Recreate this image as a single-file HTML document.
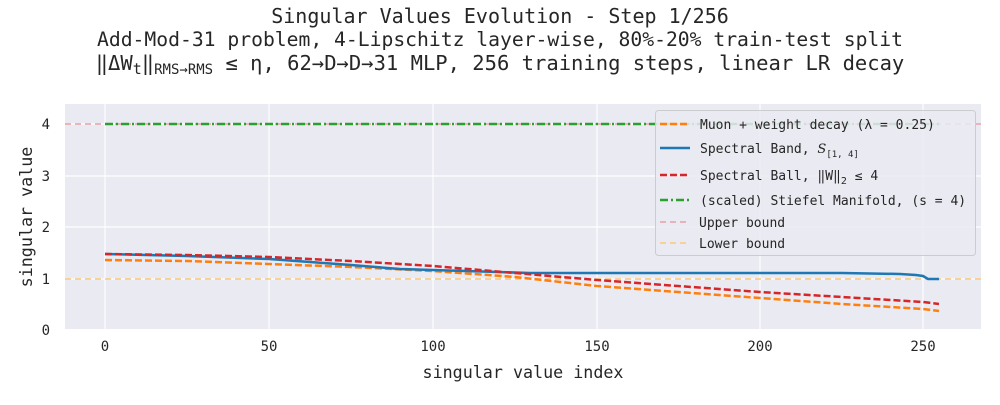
<!DOCTYPE html>
<html><head><meta charset="utf-8"><style>
body{margin:0;background:#fff;width:1000px;height:400px;overflow:hidden}
text{font-family:"DejaVu Sans Mono","Liberation Mono",monospace;fill:#262626}
</style></head><body>
<svg width="1000" height="400" xmlns="http://www.w3.org/2000/svg">
<text x="500" y="23" font-size="20" text-anchor="middle">Singular Values Evolution - Step 1/256</text>
<text x="500" y="46" font-size="19.7" text-anchor="middle">Add-Mod-31 problem, 4-Lipschitz layer-wise, 80%-20% train-test split</text>
<text x="500" y="70" font-size="20.5" text-anchor="middle">‖ΔW<tspan font-size="15" dy="4">t</tspan><tspan dy="-4">‖</tspan><tspan font-size="14" dy="4">RMS→RMS</tspan><tspan dy="-4"> ≤ η, 62→D→D→31 MLP, 256 training steps, linear LR decay</tspan></text>
<rect x="65" y="104" width="916" height="225" fill="#eaeaf2"/>
<g stroke="#fff" stroke-width="1.2">
<line x1="105" y1="104" x2="105" y2="329"/><line x1="269" y1="104" x2="269" y2="329"/><line x1="433" y1="104" x2="433" y2="329"/><line x1="597" y1="104" x2="597" y2="329"/><line x1="760" y1="104" x2="760" y2="329"/><line x1="923" y1="104" x2="923" y2="329"/>
<line x1="65" y1="279" x2="981" y2="279"/><line x1="65" y1="227" x2="981" y2="227"/><line x1="65" y1="176" x2="981" y2="176"/><line x1="65" y1="124" x2="981" y2="124"/>
</g>
<line x1="65" y1="124" x2="981" y2="124" stroke="#e8a0a6" stroke-width="1.5" stroke-dasharray="6,4"/>
<line x1="65" y1="279" x2="981" y2="279" stroke="#fcc974" stroke-width="1.5" stroke-dasharray="6,4"/>
<line x1="105" y1="124" x2="939" y2="124" stroke="#2ca02c" stroke-width="2.5" stroke-dasharray="8,3,2,3"/>
<polyline fill="none" stroke="#ff7f0e" stroke-width="2.5" stroke-dasharray="7,3" points="105,260 187,261 269,264 351,267 433,271 515,277 597,286 678,292 760,298 842,304 923,309 939,311"/>
<polyline fill="none" stroke="#1f77b4" stroke-width="2.5" points="105,254 187,256 269,259 351,265 400,269 433,270 498,272 530,273 760,273 842,273 900,274 916,275 923,276 928,279 939,279"/>
<polyline fill="none" stroke="#d62728" stroke-width="2.5" stroke-dasharray="7,3" points="105,254 187,255 269,257 351,261 433,266 515,273 597,280 678,286 760,292 842,297 923,302 939,304"/>
<g font-size="14" text-anchor="middle">
<text x="105" y="351">0</text><text x="269" y="351">50</text><text x="433" y="351">100</text><text x="597" y="351">150</text><text x="760" y="351">200</text><text x="923" y="351">250</text>
</g>
<g font-size="14" text-anchor="end">
<text x="50" y="335">0</text><text x="50" y="284">1</text><text x="50" y="232">2</text><text x="50" y="181">3</text><text x="50" y="129">4</text>
</g>
<text x="523" y="378" font-size="16.7" text-anchor="middle">singular value index</text>
<text transform="translate(32,217) rotate(-90)" font-size="16.7" text-anchor="middle">singular value</text>
<rect x="655.5" y="110.5" width="320" height="145" rx="3" fill="#eaeaf2" fill-opacity="0.85" stroke="#ccc"/>
<g stroke-width="2.5">
<line x1="660" y1="124" x2="688" y2="124" stroke="#ff7f0e" stroke-dasharray="7,3"/>
<line x1="660" y1="148" x2="690" y2="148" stroke="#1f77b4"/>
<line x1="660" y1="175" x2="690" y2="175" stroke="#d62728" stroke-dasharray="7,3"/>
<line x1="660" y1="200" x2="690" y2="200" stroke="#2ca02c" stroke-dasharray="8,3,2,3"/>
<line x1="660" y1="222" x2="690" y2="222" stroke="#e8a0a6" stroke-width="1.5" stroke-dasharray="6,4"/>
<line x1="660" y1="243" x2="690" y2="243" stroke="#fcc974" stroke-width="1.5" stroke-dasharray="6,4"/>
</g>
<g font-size="13">
<text x="700" y="129">Muon + weight decay (λ = 0.25)</text>
<text x="700" y="153">Spectral Band, <tspan font-style="italic" font-family="DejaVu Serif">S</tspan><tspan font-size="9" dy="4">[1, 4]</tspan></text>
<text x="700" y="180">Spectral Ball, ‖W‖<tspan font-size="10" dy="4">2</tspan><tspan dy="-4"> ≤ 4</tspan></text>
<text x="700" y="205">(scaled) Stiefel Manifold, (s = 4)</text>
<text x="699" y="227">Upper bound</text>
<text x="699" y="248">Lower bound</text>
</g>
</svg>
</body></html>
